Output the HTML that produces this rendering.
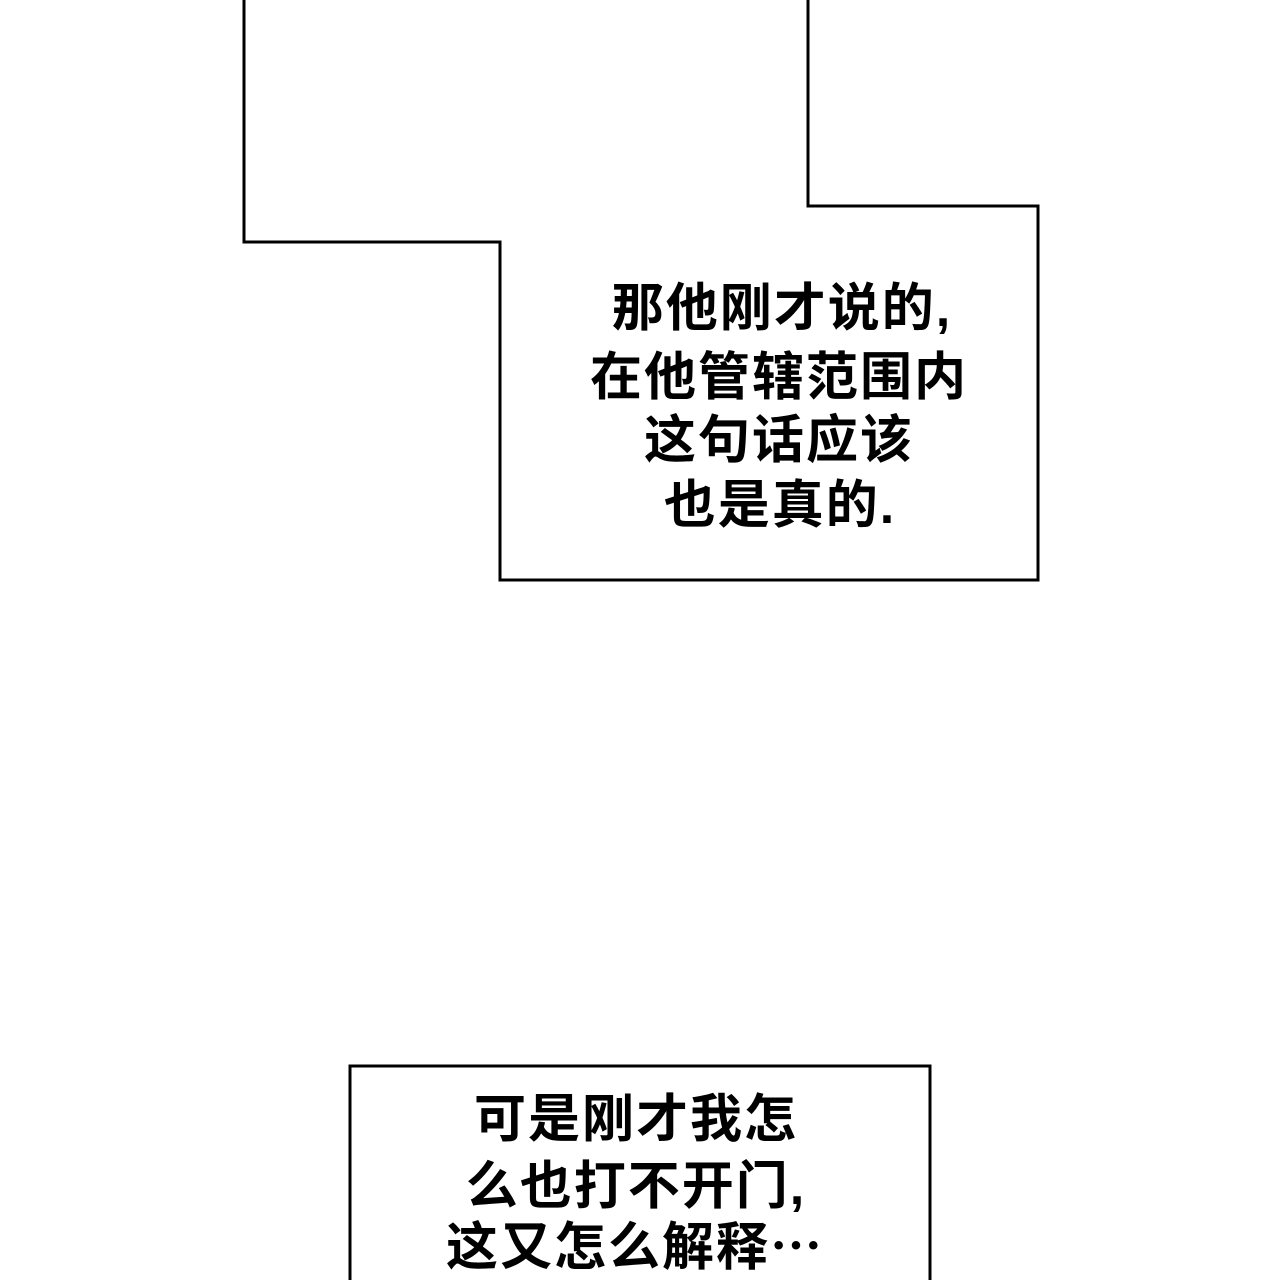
<!DOCTYPE html>
<html><head><meta charset="utf-8"><style>html,body{margin:0;padding:0;background:#fff;width:1280px;height:1280px;overflow:hidden}</style></head>
<body>
<svg width="1280" height="1280" xmlns="http://www.w3.org/2000/svg">
<rect width="1280" height="1280" fill="#fff"/>
<polyline points="244,-5 244,242 500,242 500,580 1038,580 1038,206 808,206 808,-5" fill="none" stroke="#000" stroke-width="3"/>
<polyline points="350,1290 350,1066 930,1066 930,1290" fill="none" stroke="#000" stroke-width="3"/>
<g font-family="'Liberation Sans','Noto Sans CJK SC',sans-serif" font-weight="bold" font-size="52" letter-spacing="2" text-anchor="middle" dominant-baseline="central" fill="#000">
<text x="782" y="309">那他刚才说的,</text>
<text x="779" y="378">在他管辖范围内</text>
<text x="779" y="441">这句话应该</text>
<text x="780" y="506">也是真的.</text>
<text x="636" y="1120">可是刚才我怎</text>
<text x="636" y="1187">么也打不开门,</text>
<text x="635" y="1248">这又怎么解释⋯</text>
</g>
</svg>
</body></html>
